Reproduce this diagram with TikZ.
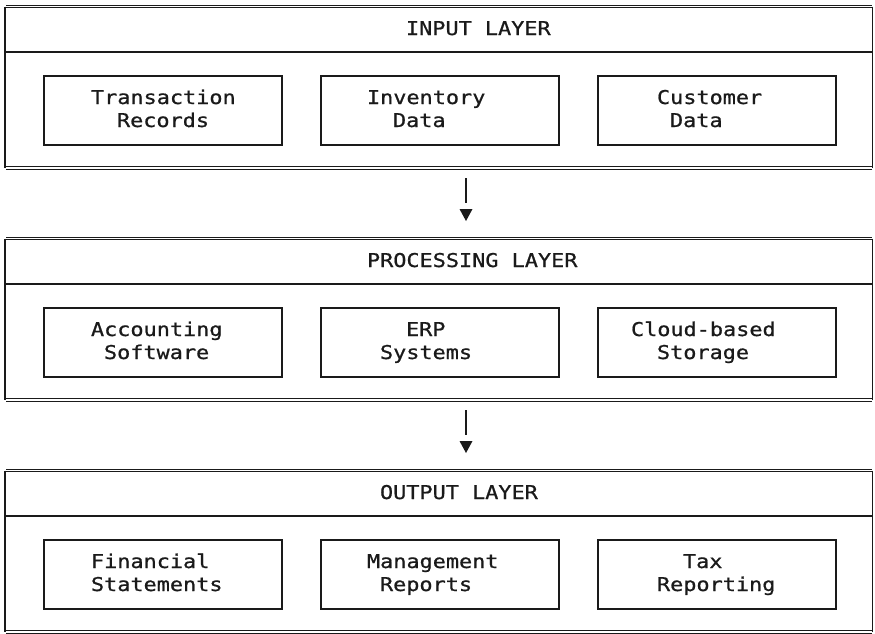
\documentclass[tikz,border=0pt]{standalone}
\usepackage{fontspec}
\newfontfamily\monofam[FakeStretch=1.15,FakeBold=0.8]{DejaVu Sans Mono}
\definecolor{ink}{HTML}{1A1A1A}
\begin{document}
\begin{tikzpicture}[x=1pt,y=-1pt,
  txt/.style={anchor=base west,inner sep=0pt,outer sep=0pt,text=ink,font=\monofam\fontsize{19}{23}\selectfont},
  sbox/.style={draw=ink,line width=1.3pt,minimum width=238pt,minimum height=69pt,inner sep=0pt},
  edge/.style={draw=ink,line width=1.3pt},
  dbl/.style={draw=ink,line width=1pt,double=white,double distance=1.2pt},
  tip/.style={fill=ink,draw=none}]
\useasboundingbox (0,0) rectangle (875,633);

% ---------- layer frames ----------
\foreach \k in {0,1,2}{
  \pgfmathsetmacro{\t}{6.5+232*\k}
  \pgfmathsetmacro{\b}{\t+161.5}
  \pgfmathsetmacro{\d}{52+232*\k}
  \draw[edge] (5,\t) -- (5,\b);
  \draw[edge] (872.5,\t) -- (872.5,\b);
  \draw[edge] (5,\d) -- (872.5,\d);
  \draw[dbl] (6,\t) -- (871.5,\t);
  \draw[dbl] (6,\b) -- (871.5,\b);
}

% ---------- inner boxes ----------
\node[sbox] (b11) at (163,110.5) {};
\node[sbox] (b12) at (440,110.5) {};
\node[sbox] (b13) at (717,110.5) {};
\node[sbox] (b21) at (163,342.5) {};
\node[sbox] (b22) at (440,342.5) {};
\node[sbox] (b23) at (717,342.5) {};
\node[sbox] (b31) at (163,574.5) {};
\node[sbox] (b32) at (440,574.5) {};
\node[sbox] (b33) at (717,574.5) {};

% ---------- titles ----------
\node[txt] (t1) at (406,35) {INPUT LAYER};
\node[txt] (t2) at (367,267) {PROCESSING LAYER};
\node[txt] (t3) at (380,499) {OUTPUT LAYER};

% ---------- box texts ----------
\node[txt] (a1) at (91,104) {Transaction};
\node[txt] (a2) at (117,127) {Records};
\node[txt] (a3) at (367,104) {Inventory};
\node[txt] (a4) at (393,127) {Data};
\node[txt] (a5) at (657,104) {Customer};
\node[txt] (a6) at (670,127) {Data};

\node[txt] (c1) at (91,336) {Accounting};
\node[txt] (c2) at (104,359) {Software};
\node[txt] (c3) at (406,336) {ERP};
\node[txt] (c4) at (380,359) {Systems};
\node[txt] (c5) at (631,336) {Cloud-based};
\node[txt] (c6) at (657,359) {Storage};

\node[txt] (e1) at (91,568) {Financial};
\node[txt] (e2) at (91,591) {Statements};
\node[txt] (e3) at (367,568) {Management};
\node[txt] (e4) at (380,591) {Reports};
\node[txt] (e5) at (683,568) {Tax};
\node[txt] (e6) at (657,591) {Reporting};

% ---------- connectors ----------
\coordinate (s1) at (466,178);
\coordinate (e1c) at (466,203);
\coordinate (s2) at (466,410);
\coordinate (e2c) at (466,435);
\draw[edge] (s1) -- (e1c);
\draw[edge] (s2) -- (e2c);
\fill[tip] (459.5,209) -- (472.5,209) -- (466,221) -- cycle;
\fill[tip] (459.5,441) -- (472.5,441) -- (466,453) -- cycle;
\end{tikzpicture}
\end{document}
